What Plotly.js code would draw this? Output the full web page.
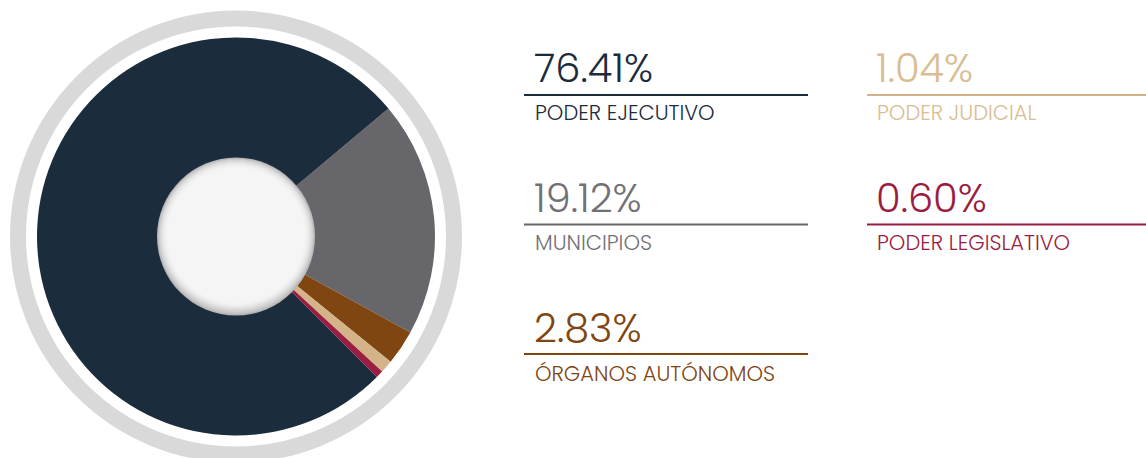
<!DOCTYPE html>
<html>
<head>
<meta charset="utf-8">
<script src="https://cdn.plot.ly/plotly-3.0.1.min.js"></script>
<style>html,body{margin:0;padding:0;background:#fff;}#chart{width:1146px;height:458px;}</style>
</head>
<body>
<div id="chart"></div>
<script>
// Data
const categories = ["MUNICIPIOS", "ÓRGANOS AUTÓNOMOS", "PODER JUDICIAL", "PODER LEGISLATIVO", "PODER EJECUTIVO"];
const values = [19.12, 2.83, 1.04, 0.60, 76.41];
const valueLabels = ["19.12%", "2.83%", "1.04%", "0.60%", "76.41%"];
const sliceColors = ["#67666b", "#7f4612", "#d4b388", "#9b1d41", "#1b2c3d"];
const textColors = ["#727176", "#7f4612", "#d9bd93", "#9b1d41", "#1b2c3d"];
const lineColors = ["#67666b", "#7f4612", "#d4b388", "#9b1d41", "#1b2c3d"];
// legend order in layout: [index, column, row]
const legendOrder = [[4, 0, 0], [2, 1, 0], [0, 0, 1], [3, 1, 1], [1, 0, 2]];

const W = 1146, H = 458;
const px = x => x / W;
const py = y => 1 - y / H;

const cx = 236, cy = 236.5, R = 199;

const trace = {
  type: "pie",
  values: values,
  labels: categories,
  sort: false,
  direction: "clockwise",
  rotation: 50,
  hole: 0.39,
  textinfo: "none",
  hoverinfo: "label+percent",
  marker: {colors: sliceColors, line: {width: 0}},
  domain: {x: [px(cx - R), px(cx + R)], y: [py(cy + R), py(cy - R)]},
  showlegend: false
};

const shapes = [];
// outer grey ring
shapes.push({type: "circle", xref: "paper", yref: "paper", xsizemode: "pixel", ysizemode: "pixel",
  xanchor: px(cx), yanchor: py(cy), x0: -218, x1: 218, y0: -218, y1: 218,
  line: {color: "#d9d9d9", width: 16}, fillcolor: "rgba(0,0,0,0)", layer: "below"});
// center disc with inset shadow
const ringShades = [182, 196, 207, 216, 223, 229, 234, 238, 241, 243, 245];
ringShades.forEach((c, i) => {
  const r = 79 - i;
  shapes.push({type: "circle", xref: "paper", yref: "paper", xsizemode: "pixel", ysizemode: "pixel",
    xanchor: px(cx), yanchor: py(cy), x0: -r, x1: r, y0: -r + Math.min(i, 4) * 0.6, y1: r,
    line: {width: 0}, fillcolor: `rgb(${c},${c},${c})`, layer: "above"});
});

const annotations = [];
const colX = [[535, 524, 808], [877, 867, 1146]];
const rowY = [[67.5, 95, 112], [197.5, 224.5, 242], [328, 354, 373]];
legendOrder.forEach(([idx, col, row]) => {
  const [tx, lx0, lx1] = colX[col];
  const [ny, ly, lby] = rowY[row];
  annotations.push({xref: "paper", yref: "paper", x: px(tx - 3), y: py(ny), xanchor: "left", yanchor: "middle",
    text: valueLabels[idx], showarrow: false,
    font: {family: "Poppins, Inter, 'Open Sans', sans-serif", size: 40, weight: 300, color: textColors[idx]}});
  annotations.push({xref: "paper", yref: "paper", x: px(tx - 2), y: py(lby), xanchor: "left", yanchor: "middle",
    text: categories[idx], showarrow: false,
    font: {family: "Poppins, Inter, 'Open Sans', sans-serif", size: 21, weight: 300, color: textColors[idx]}});
  shapes.push({type: "line", xref: "paper", yref: "paper", x0: px(lx0), x1: px(lx1), y0: py(ly), y1: py(ly),
    line: {color: lineColors[idx], width: 2}});
});

const layout = {
  width: W, height: H,
  margin: {l: 0, r: 0, t: 0, b: 0},
  paper_bgcolor: "#ffffff",
  plot_bgcolor: "#ffffff",
  shapes: shapes,
  annotations: annotations,
  showlegend: false
};

Plotly.newPlot("chart", [trace], layout, {displayModeBar: false, staticPlot: true});
</script>
</body>
</html>
